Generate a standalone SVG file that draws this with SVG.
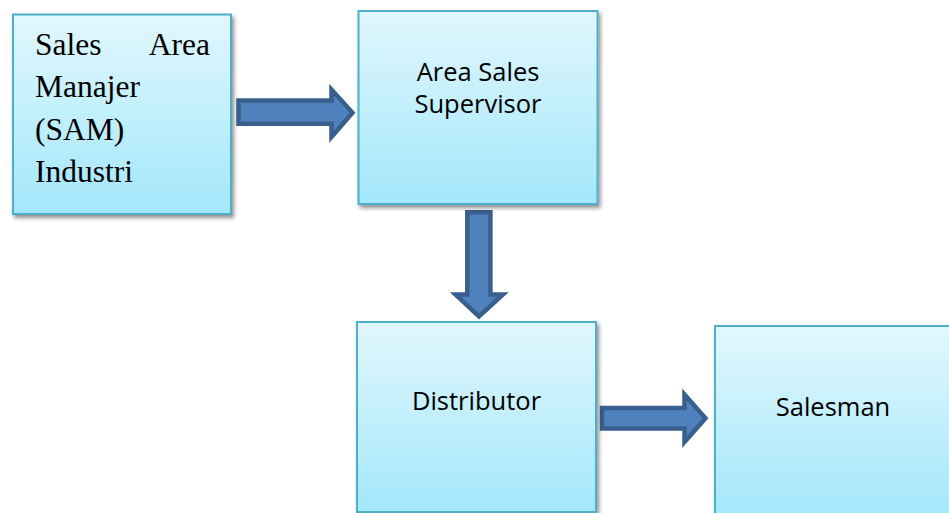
<svg xmlns="http://www.w3.org/2000/svg" width="949" height="513" viewBox="0 0 949 513">
  <defs>
    <linearGradient id="boxFill" x1="0" y1="0" x2="0" y2="1">
      <stop offset="0" stop-color="#e1f7fd"/>
      <stop offset="1" stop-color="#a3e7fb"/>
    </linearGradient>
    <filter id="shadow" x="-10%" y="-10%" width="125%" height="125%">
      <feGaussianBlur in="SourceAlpha" stdDeviation="2"/>
      <feOffset dx="2" dy="3" result="b"/>
      <feComponentTransfer><feFuncA type="linear" slope="0.45"/></feComponentTransfer>
      <feMerge><feMergeNode/><feMergeNode in="SourceGraphic"/></feMerge>
    </filter>
    <style>
      .box { fill: url(#boxFill); stroke: #4dafc8; stroke-width: 2; filter: url(#shadow); }
      .serif { font-family: "Liberation Serif", "Times New Roman", serif; font-size: 31.5px; fill: #000; }
      .sans { font-family: "Open Sans", "Noto Sans", sans-serif; font-size: 25.5px; fill: #000; text-anchor: middle; }
      .arrow { fill: #4f81bd; stroke: #395f8e; stroke-width: 4.5; stroke-linejoin: miter; stroke-miterlimit: 10; }
    </style>
  </defs>

  <rect width="949" height="513" fill="#fff"/>

  <g id="connectors">
    <!-- SAM -> Area Sales Supervisor -->
    <path class="arrow" d="M238.5,100.5 H331.5 V89.5 L352.5,112.8 L331.5,137 V123.8 H238.5 Z"/>
    <!-- Area Sales Supervisor -> Distributor -->
    <path class="arrow" d="M467.3,212.3 H490.4 V294.5 H503 L479,316.5 L455.5,294.5 H467.3 Z"/>
    <!-- Distributor -> Salesman -->
    <path class="arrow" d="M602,408 H684.5 V394.5 L705.5,418.3 L684.5,442 V428.5 H602 Z"/>
  </g>

  <g id="node-sam">
    <rect class="box" x="13" y="14.5" width="218" height="199.5"/>
    <text class="serif" x="35" y="55">Sales</text>
    <text class="serif" x="210" y="55" text-anchor="end">Area</text>
    <text class="serif" x="35" y="97">Manajer</text>
    <text class="serif" x="35" y="139.5">(SAM)</text>
    <text class="serif" x="35" y="182">Industri</text>
  </g>

  <g id="node-supervisor">
    <rect class="box" x="358.5" y="11" width="239" height="193"/>
    <text class="sans" x="478" y="81">Area Sales</text>
    <text class="sans" x="478" y="113">Supervisor</text>
  </g>

  <g id="node-distributor">
    <rect class="box" x="357" y="322" width="239" height="190"/>
    <text class="sans" x="476.5" y="410">Distributor</text>
  </g>

  <g id="node-salesman">
    <rect class="box" x="715" y="326" width="240" height="192"/>
    <text class="sans" x="833" y="416">Salesman</text>
  </g>
</svg>
